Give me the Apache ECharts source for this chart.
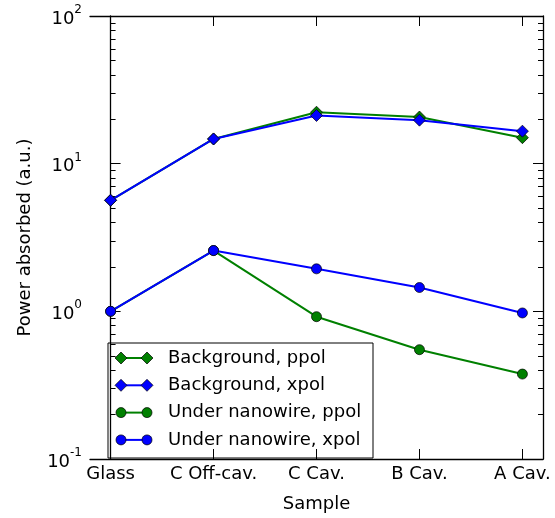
<!DOCTYPE html>
<html>
<head>
<meta charset="utf-8">
<script src="https://cdn.jsdelivr.net/npm/echarts@6/dist/echarts.min.js"></script>
<style>html,body{margin:0;padding:0;background:#fff;}#chart{width:555px;height:518px;}</style>
</head>
<body>
<div id="chart"></div>
<script>
// ---- data ----
var categories = ['Glass', 'C Off-cav.', 'C Cav.', 'B Cav.', 'A Cav.'];
var backgroundPpol = [5.65, 14.7, 22.3, 20.7, 15.0];
var backgroundXpol = [5.65, 14.7, 21.2, 19.7, 16.6];
var underPpol = [1.0, 2.58, 0.92, 0.55, 0.376];
var underXpol = [1.0, 2.58, 1.94, 1.45, 0.975];
var seriesNames = ['Background, ppol', 'Background, xpol', 'Under nanowire, ppol', 'Under nanowire, xpol'];
var yTickValues = [0.1, 1, 10, 100];
var yTickExponents = ['-1', '0', '1', '2'];
var yMinorTickValues = [0.2, 0.3, 0.4, 0.5, 0.6, 0.7, 0.8, 0.9, 2, 3, 4, 5, 6, 7, 8, 9, 20, 30, 40, 50, 60, 70, 80, 90];
var xTickValues = [0, 1, 2, 3, 4];

// ---- styles ----
var seriesColors = ['#008000', '#0000ff', '#008000', '#0000ff'];
var seriesSymbols = ['diamond', 'diamond', 'circle', 'circle'];
var seriesValues = [backgroundPpol, backgroundXpol, underPpol, underXpol];
var FONT = 'DejaVu Sans';
var AXIS_W = 1.3;

var chart = echarts.init(document.getElementById('chart'), null, {renderer: 'canvas'});

function pairs(arr) { return arr.map(function (v, i) { return [i, v]; }); }

var series = seriesValues.map(function (vals, i) {
  return {
    name: seriesNames[i],
    type: 'line',
    xAxisIndex: 0,
    yAxisIndex: 0,
    data: pairs(vals),
    symbol: seriesSymbols[i],
    symbolSize: seriesSymbols[i] === 'diamond' ? 12 : 10,
    lineStyle: {color: seriesColors[i], width: 2},
    itemStyle: {color: seriesColors[i], borderColor: '#000', borderWidth: 0.7},
    emphasis: {disabled: true},
    animation: false,
    z: 2 + i
  };
});

// legend drawn as graphic (two markers per entry, matplotlib style)
var legendChildren = [{
  type: 'rect', shape: {x: 108, y: 343, width: 265, height: 115},
  style: {fill: '#fff', stroke: '#000', lineWidth: 1}
}];
seriesNames.forEach(function (name, i) {
  var cy = 358 + i * 27.3;
  var col = seriesColors[i];
  legendChildren.push({type: 'line', shape: {x1: 121, y1: cy, x2: 147, y2: cy}, style: {stroke: col, lineWidth: 2}});
  [121, 147].forEach(function (cx) {
    if (seriesSymbols[i] === 'diamond') {
      legendChildren.push({type: 'polygon', shape: {points: [[cx, cy - 6], [cx + 6, cy], [cx, cy + 6], [cx - 6, cy]]},
        style: {fill: col, stroke: '#000', lineWidth: 0.7}});
    } else {
      legendChildren.push({type: 'circle', shape: {cx: cx, cy: cy, r: 5}, style: {fill: col, stroke: '#000', lineWidth: 0.7}});
    }
  });
  legendChildren.push({type: 'text', x: 168, y: cy,
    style: {text: name, fill: '#000', font: '18px "' + FONT + '"', verticalAlign: 'middle', align: 'left'}});
});

var xBase = {
  type: 'value', min: -0.2, max: 4.2, gridIndex: 0,
  splitLine: {show: false},
  axisLine: {show: true, lineStyle: {color: '#000', width: AXIS_W}}
};

var option = {
  animation: false,
  backgroundColor: '#fff',
  grid: {left: 90, top: 16, right: 12, bottom: 55, containLabel: false},
  xAxis: [
    Object.assign({}, xBase, {
      position: 'bottom',
      name: 'Sample', nameLocation: 'middle', nameGap: 36,
      nameTextStyle: {fontFamily: FONT, fontSize: 18, color: '#000'},
      axisTick: {show: true, inside: true, length: 10, customValues: xTickValues, lineStyle: {color: '#000'}},
      axisLabel: {show: true, customValues: xTickValues, margin: 6, fontFamily: FONT, fontSize: 18, color: '#000',
        formatter: function (v) { return categories[Math.round(v)]; }}
    }),
    Object.assign({}, xBase, {
      position: 'top',
      axisTick: {show: true, inside: true, length: 10, customValues: xTickValues, lineStyle: {color: '#000'}},
      axisLabel: {show: false}
    })
  ],
  yAxis: [
    {
      type: 'log', logBase: 10, min: 0.1, max: 100, position: 'left',
      name: 'Power absorbed (a.u.)', nameLocation: 'middle', nameGap: 56,
      nameTextStyle: {fontFamily: FONT, fontSize: 18, color: '#000'},
      splitLine: {show: false},
      axisLine: {show: true, lineStyle: {color: '#000', width: AXIS_W}},
      axisTick: {show: true, inside: true, length: 10, customValues: yTickValues, lineStyle: {color: '#000'}},
      axisLabel: {
        show: true, customValues: yTickValues, margin: 8,
        formatter: function (v) {
          var idx = yTickValues.indexOf(v);
          var e = idx >= 0 ? yTickExponents[idx] : String(Math.round(Math.log10(v)));
          return '{b|10}{s|' + e + '}';
        },
        rich: {
          b: {fontFamily: FONT, fontSize: 18, color: '#000', padding: [6, 0, 0, 0]},
          s: {fontFamily: FONT, fontSize: 12, color: '#000', verticalAlign: 'top'}
        }
      }
    },
    {
      type: 'log', logBase: 10, min: 0.1, max: 100, position: 'left',
      splitLine: {show: false}, axisLine: {show: false},
      axisTick: {show: true, inside: true, length: 5, customValues: yMinorTickValues, lineStyle: {color: '#000'}},
      axisLabel: {show: false}
    },
    {
      type: 'log', logBase: 10, min: 0.1, max: 100, position: 'right',
      splitLine: {show: false},
      axisLine: {show: true, lineStyle: {color: '#000', width: AXIS_W}},
      axisTick: {show: true, inside: true, length: 10, customValues: yTickValues, lineStyle: {color: '#000'}},
      axisLabel: {show: false}
    },
    {
      type: 'log', logBase: 10, min: 0.1, max: 100, position: 'right',
      splitLine: {show: false}, axisLine: {show: false},
      axisTick: {show: true, inside: true, length: 5, customValues: yMinorTickValues, lineStyle: {color: '#000'}},
      axisLabel: {show: false}
    }
  ],
  series: series,
  graphic: [{type: 'group', z: 100, children: legendChildren}]
};

chart.setOption(option);
</script>
</body>
</html>
